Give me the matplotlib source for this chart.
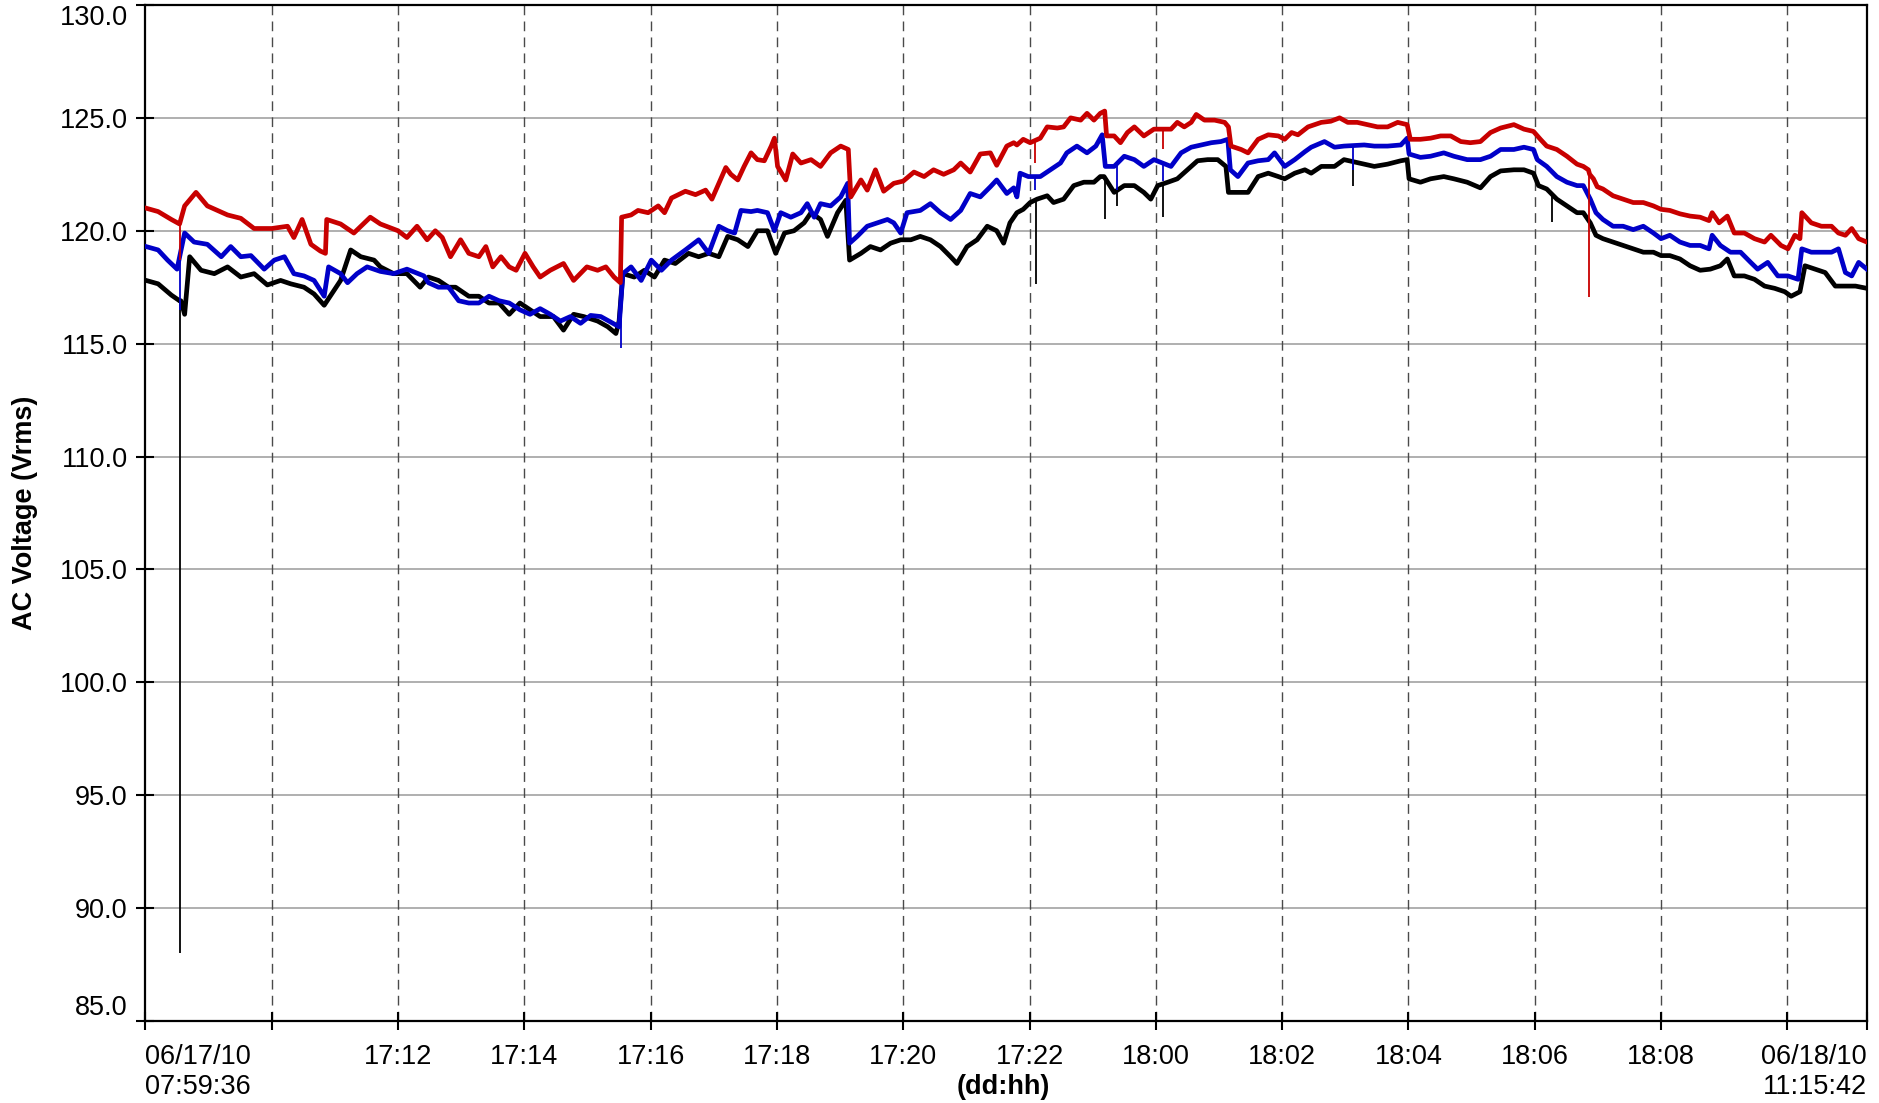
import matplotlib
matplotlib.use("Agg")
import matplotlib.pyplot as plt
import numpy as np

plt.rcParams['font.family'] = ['Liberation Sans', 'DejaVu Sans']

# time in hours since 06/17/10 00:00
t_start = 7 + 59/60 + 36/3600      # 06/17/10 07:59:36
t_end = 24 + 11 + 15/60 + 42/3600  # 06/18/10 11:15:42

red_t = [8.01, 8.20, 8.41, 8.54, 8.62, 8.80, 8.98, 9.14, 9.30, 9.51, 9.72, 10.00, 10.25, 10.35,
         10.48, 10.62, 10.77, 10.85, 10.87, 11.09, 11.30, 11.56, 11.72, 12.00, 12.14, 12.30, 12.46,
         12.59, 12.70, 12.83, 12.99, 13.12, 13.28, 13.39, 13.50, 13.63, 13.76, 13.87, 14.01, 14.14,
         14.25, 14.41, 14.62, 14.78, 14.99, 15.16, 15.29, 15.42, 15.52, 15.54, 15.69, 15.80, 15.96,
         16.12, 16.22, 16.33, 16.55, 16.71, 16.87, 16.97, 17.08, 17.19, 17.27, 17.38, 17.48, 17.59,
         17.69, 17.80, 17.91, 17.96, 18.01, 18.14, 18.25, 18.38, 18.54, 18.69, 18.85, 19.01, 19.13,
         19.17, 19.33, 19.43, 19.56, 19.69, 19.85, 20.00, 20.17, 20.33, 20.48, 20.64, 20.80, 20.91,
         21.06, 21.22, 21.38, 21.48, 21.64, 21.75, 21.80, 21.90, 22.01, 22.17, 22.28, 22.44,
         22.54, 22.65, 22.81, 22.91, 23.02, 23.12, 23.19, 23.22, 23.34, 23.44, 23.55, 23.66, 23.81,
         23.97, 24.24, 24.34, 24.45, 24.56, 24.64, 24.77, 24.93, 25.09, 25.15, 25.19, 25.35,
         25.46, 25.62, 25.78, 25.94, 26.04, 26.15, 26.25, 26.41, 26.62, 26.77, 26.91, 27.04, 27.19,
         27.35, 27.51, 27.67, 27.83, 27.98, 28.03, 28.19, 28.35, 28.51, 28.67, 28.83, 28.98, 29.14,
         29.30, 29.46, 29.67, 29.83, 29.98, 30.09, 30.19, 30.35, 30.51, 30.67, 30.77, 30.85,
         30.87, 30.93, 30.99, 31.08, 31.24, 31.40, 31.56, 31.72, 31.88, 32.00, 32.14, 32.30, 32.46,
         32.62, 32.76, 32.81, 32.92, 33.05, 33.16, 33.32, 33.48, 33.64, 33.74, 33.90, 34.01, 34.12,
         34.20, 34.23, 34.38, 34.54, 34.70, 34.81, 34.92, 35.02, 35.13, 35.26]
red_v = [121.0, 120.85, 120.5, 120.3, 121.1, 121.7, 121.1, 120.9, 120.7, 120.55, 120.1, 120.1,
         120.2, 119.7, 120.5, 119.4, 119.1, 119.0, 120.5, 120.3, 119.9, 120.6, 120.3, 120.0, 119.7,
         120.2, 119.6, 120.0, 119.7, 118.85, 119.6, 119.0, 118.85, 119.3, 118.4, 118.85, 118.4,
         118.25, 119.0, 118.4, 117.95, 118.25, 118.55, 117.8, 118.4, 118.25, 118.4, 117.95, 117.7,
         120.6, 120.7, 120.9, 120.8, 121.1, 120.8, 121.45, 121.75, 121.6, 121.8, 121.4, 122.1, 122.8,
         122.5, 122.25, 122.85, 123.45, 123.15, 123.1, 123.75, 124.1, 122.85, 122.25, 123.4, 123.0,
         123.15, 122.85, 123.45, 123.75, 123.6, 121.5, 122.25, 121.8, 122.7, 121.75, 122.1, 122.2,
         122.6, 122.4, 122.7, 122.5, 122.7, 123.0, 122.6, 123.4, 123.45, 122.9, 123.75, 123.9, 123.8,
         124.05, 123.9, 124.1, 124.6, 124.55, 124.6, 125.0, 124.9, 125.2, 124.9, 125.2, 125.3,
         124.2, 124.2, 123.9, 124.35, 124.6, 124.2, 124.5, 124.5, 124.8, 124.6, 124.8, 125.15,
         124.9, 124.9, 124.8, 124.6, 123.75, 123.6, 123.45, 124.05, 124.25, 124.2, 124.05, 124.35,
         124.25, 124.6, 124.8, 124.85, 125.0, 124.8, 124.8, 124.7, 124.6, 124.6, 124.8, 124.7, 124.05,
         124.05, 124.1, 124.2, 124.2, 123.95, 123.9, 123.95, 124.35, 124.55, 124.7, 124.5, 124.4,
         124.05, 123.75, 123.6, 123.3, 122.95, 122.85, 122.7, 122.5, 122.3, 121.95, 121.85,
         121.55, 121.4, 121.25, 121.25, 121.1, 120.95, 120.9, 120.75, 120.65, 120.6, 120.45, 120.8,
         120.35, 120.65, 119.9, 119.9, 119.65, 119.5, 119.8, 119.35, 119.2, 119.8, 119.65, 120.8,
         120.35, 120.2, 120.2, 119.9, 119.8, 120.1, 119.65, 119.5]
red_spike_t = [8.55, 22.09, 24.11, 30.86]
red_spike_v = [118.7, 123.0, 123.6, 117.05]

blue_t = [8.01, 8.20, 8.35, 8.50, 8.62, 8.77, 8.98, 9.20, 9.35, 9.51, 9.67, 9.88, 10.04, 10.20,
          10.35, 10.51, 10.67, 10.83, 10.90, 11.09, 11.20, 11.35, 11.51, 11.72, 11.93, 12.14, 12.41,
          12.48, 12.64, 12.80, 12.96, 13.12, 13.28, 13.44, 13.60, 13.76, 13.93, 14.09, 14.25, 14.41,
          14.57, 14.73, 14.89, 15.05, 15.21, 15.37, 15.50, 15.56, 15.69, 15.85, 16.01, 16.17,
          16.33, 16.55, 16.76, 16.92, 17.08, 17.22, 17.33, 17.43, 17.59, 17.69, 17.85, 17.96, 18.06,
          18.22, 18.38, 18.48, 18.59, 18.69, 18.85, 19.01, 19.12, 19.15, 19.27, 19.43, 19.59, 19.75,
          19.85, 19.96, 20.06, 20.27, 20.43, 20.59, 20.75, 20.91, 21.06, 21.22, 21.38, 21.48, 21.64,
          21.75, 21.80, 21.85, 21.98, 22.17, 22.33, 22.49, 22.59, 22.75, 22.91, 23.05, 23.15,
          23.20, 23.34, 23.50, 23.66, 23.81, 23.97, 24.24, 24.40, 24.56, 24.72, 24.88,
          25.03, 25.14, 25.18, 25.30, 25.46, 25.62, 25.78, 25.88, 26.04, 26.20, 26.36, 26.46, 26.67,
          26.83, 26.98, 27.30, 27.46, 27.67, 27.88, 27.98, 28.01, 28.19, 28.35, 28.56, 28.72,
          28.93, 29.14, 29.30, 29.46, 29.67, 29.83, 29.98, 30.04, 30.19, 30.35, 30.51, 30.67, 30.77,
          30.88, 30.97, 31.08, 31.24, 31.40, 31.56, 31.72, 31.88, 32.00, 32.14, 32.30, 32.46, 32.62,
          32.76, 32.81, 32.94, 33.10, 33.26, 33.42, 33.53, 33.69, 33.85, 34.01, 34.17, 34.23, 34.38,
          34.54, 34.70, 34.81, 34.92, 35.02, 35.13, 35.26]
blue_v = [119.3, 119.15, 118.7, 118.3, 119.9, 119.5, 119.4, 118.85, 119.3, 118.85, 118.9, 118.3,
          118.7, 118.85, 118.1, 118.0, 117.8, 117.1, 118.4, 118.1, 117.7, 118.1, 118.4, 118.2, 118.1,
          118.3, 118.0, 117.7, 117.5, 117.5, 116.9, 116.8, 116.8, 117.1, 116.9, 116.8, 116.5, 116.3,
          116.55, 116.3, 116.0, 116.2, 115.9, 116.25, 116.2, 115.95, 115.75, 118.1, 118.4,
          117.8, 118.7, 118.25, 118.7, 119.15, 119.6, 119.0, 120.2, 120.0, 119.9, 120.9, 120.85, 120.9,
          120.8, 120.0, 120.8, 120.6, 120.8, 121.2, 120.6, 121.2, 121.1, 121.5, 122.1, 119.45, 119.75,
          120.2, 120.35, 120.5, 120.35, 119.9, 120.8, 120.9, 121.2, 120.8, 120.5, 120.9, 121.65, 121.5,
          121.95, 122.25, 121.65, 121.9, 121.5, 122.55, 122.4, 122.4, 122.7, 123.0, 123.45,
          123.75, 123.45, 123.75, 124.25, 122.85, 122.85, 123.3, 123.15, 122.85, 123.15,
          122.85, 123.45, 123.7, 123.8, 123.9, 123.95, 124.05, 122.7, 122.4, 123.0, 123.1, 123.15,
          123.45, 122.85, 123.15, 123.5, 123.7, 123.95, 123.7, 123.75, 123.8, 123.75, 123.75,
          123.8, 124.1, 123.4, 123.25, 123.3, 123.45, 123.3, 123.15, 123.15, 123.3, 123.6, 123.6, 123.7,
          123.6, 123.15, 122.85, 122.4, 122.15, 122.0, 122.0, 121.4, 120.8, 120.5, 120.2, 120.2, 120.05,
          120.2, 119.9, 119.65, 119.8, 119.5, 119.35, 119.35, 119.2, 119.8, 119.35, 119.05, 119.05,
          118.6, 118.3, 118.6, 118.0, 118.0, 117.85, 119.2, 119.05, 119.05, 119.05, 119.2, 118.15,
          118.0, 118.6, 118.3]
blue_spike_t = [8.55, 15.53, 22.09, 23.39, 24.11, 27.12]
blue_spike_v = [116.5, 114.8, 121.8, 121.8, 122.2, 122.7]

black_t = [8.01, 8.20, 8.41, 8.54, 8.56, 8.62, 8.70, 8.88, 9.09, 9.30, 9.51, 9.72, 9.93, 10.14,
           10.30, 10.51, 10.67, 10.83, 11.09, 11.25, 11.41, 11.62, 11.72, 11.93, 12.14, 12.35, 12.48,
           12.64, 12.80, 12.91, 13.12, 13.28, 13.44, 13.60, 13.76, 13.93, 14.09, 14.25, 14.46, 14.62,
           14.78, 14.94, 15.16, 15.32, 15.45, 15.50, 15.56, 15.74, 15.90, 16.06, 16.22, 16.39, 16.60,
           16.76, 16.92, 17.08, 17.22, 17.38, 17.54, 17.69, 17.85, 17.98, 18.12, 18.27, 18.43, 18.54,
           18.69, 18.80, 18.96, 19.09, 19.15, 19.33, 19.48, 19.64, 19.80, 19.96, 20.12, 20.27, 20.43,
           20.59, 20.75, 20.85, 21.01, 21.17, 21.33, 21.48, 21.59, 21.69, 21.80, 21.90, 22.01,
           22.12, 22.28, 22.38, 22.54, 22.70, 22.86, 23.02, 23.12, 23.18, 23.34, 23.50,
           23.66, 23.81, 23.92, 24.03, 24.19, 24.34, 24.50, 24.66, 24.82, 24.98, 25.11, 25.15,
           25.30, 25.46, 25.62, 25.78, 25.94, 26.04, 26.20, 26.36, 26.46, 26.62, 26.83, 26.98,
           27.30, 27.46, 27.67, 27.88, 27.98, 28.01, 28.19, 28.35, 28.56, 28.72, 28.93, 29.14, 29.30,
           29.46, 29.67, 29.83, 29.98, 30.06, 30.19, 30.35, 30.51, 30.67, 30.77, 30.88, 30.97,
           31.08, 31.24, 31.40, 31.56, 31.72, 31.88, 32.00, 32.14, 32.30, 32.46, 32.62, 32.78, 32.94,
           33.05, 33.16, 33.32, 33.48, 33.64, 33.80, 33.96, 34.06, 34.20, 34.28, 34.44, 34.60, 34.76,
           34.92, 35.08, 35.26]
black_v = [117.8, 117.65, 117.15, 116.9, 116.9, 116.3, 118.85, 118.25, 118.1, 118.4, 117.95,
           118.1, 117.6, 117.8, 117.65, 117.5, 117.2, 116.7, 117.8, 119.15, 118.85, 118.7, 118.4, 118.1,
           118.1, 117.5, 117.95, 117.8, 117.5, 117.5, 117.1, 117.1, 116.8, 116.8, 116.3, 116.8, 116.5,
           116.2, 116.2, 115.6, 116.3, 116.2, 116.0, 115.75, 115.45, 116.0, 118.1, 117.95, 118.25,
           117.95, 118.7, 118.55, 119.0, 118.85, 119.0, 118.85, 119.75, 119.6, 119.3, 120.0, 120.0,
           119.0, 119.9, 120.0, 120.35, 120.8, 120.5, 119.75, 120.8, 121.35, 118.7, 119.0, 119.3,
           119.15, 119.45, 119.6, 119.6, 119.75, 119.6, 119.3, 118.85, 118.55, 119.3, 119.6, 120.2,
           120.0, 119.45, 120.35, 120.8, 120.95, 121.25, 121.4, 121.55, 121.25, 121.4, 122.0,
           122.15, 122.15, 122.4, 122.4, 121.7, 122.0, 122.0, 121.7, 121.4, 122.0,
           122.15, 122.3, 122.7, 123.1, 123.15, 123.15, 122.85, 121.7, 121.7, 121.7, 122.4, 122.55,
           122.4, 122.3, 122.55, 122.7, 122.55, 122.85, 122.85, 123.15, 122.95, 122.85, 122.95,
           123.1, 123.15, 122.3, 122.15, 122.3, 122.4, 122.3, 122.15, 121.9, 122.4, 122.65, 122.7,
           122.7, 122.55, 122.0, 121.85, 121.4, 121.1, 120.8, 120.8, 120.35, 119.8, 119.65,
           119.5, 119.35, 119.2, 119.05, 119.05, 118.9, 118.9, 118.75, 118.45, 118.25, 118.3, 118.45,
           118.75, 118.0, 118.0, 117.85, 117.55, 117.45, 117.3, 117.1, 117.3, 118.45, 118.3, 118.15,
           117.55, 117.55, 117.55, 117.45]
black_spike_t = [8.553, 22.10, 23.20, 23.39, 24.11, 27.12, 30.27]
black_spike_v = [88.0, 117.65, 120.5, 121.1, 120.6, 122.0, 120.4]

grid_hours = [10, 12, 14, 16, 18, 20, 22, 24, 26, 28, 30, 32, 34]
grid_labels = ["", "17:12", "17:14", "17:16", "17:18", "17:20", "17:22",
               "18:00", "18:02", "18:04", "18:06", "18:08", ""]
start_label = "06/17/10\n07:59:36"
end_label = "06/18/10\n11:15:42"
y_ticks = [85, 90, 95, 100, 105, 110, 115, 120, 125, 130]

FS = 19.5
AX_L, AX_R, AX_B, AX_T = 0.0772, 0.9936, 0.0743, 0.9955

fig = plt.figure(figsize=(18.79, 11.03), dpi=100)
ax = fig.add_axes([AX_L, AX_B, AX_R - AX_L, AX_T - AX_B])

ax.set_xlim(t_start, t_end)
ax.set_ylim(85, 130)

for y in y_ticks:
    ax.axhline(y, color='#9a9a9a', lw=1.1, zorder=1)
for h in grid_hours:
    ax.axvline(h, color='#4a4a4a', lw=1.0, dashes=(7, 4.5), zorder=1)

LW = 3.4
series = [(black_t, black_v, black_spike_t, black_spike_v, '#000000', 3),
          (blue_t, blue_v, blue_spike_t, blue_spike_v, '#0000C8', 4),
          (red_t, red_v, red_spike_t, red_spike_v, '#C80000', 5)]
for t, v, st, sv, col, z in series:
    ax.plot(t, v, color=col, lw=LW, zorder=z)
    base = np.interp(st, t, v)
    ax.vlines(st, sv, base, colors=col, lw=1.3, zorder=z)

ax.set_yticks(y_ticks)
ax.set_yticklabels([f"{v:.1f}" for v in y_ticks])
ylabels = ax.get_yticklabels()
ylabels[0].set_va('bottom')
ylabels[-1].set_va('top')

ax.set_xticks([t_start] + grid_hours + [t_end])
ax.set_xticklabels([start_label] + grid_labels + [end_label])
labels = ax.get_xticklabels()
labels[0].set_ha('left')
labels[0].set_multialignment('left')
labels[-1].set_ha('right')
labels[-1].set_multialignment('right')

ax.tick_params(axis='both', direction='inout', length=13, width=1.5, labelsize=FS, colors='black')
ax.tick_params(axis='x', pad=10)
ax.tick_params(axis='y', pad=6)

for s in ax.spines.values():
    s.set_linewidth(1.6)
    s.set_color('black')

fig.text(25 / 1879, (AX_B + AX_T) / 2, "AC Voltage (Vrms)", rotation=90, ha='center', va='center',
         fontsize=FS, fontweight='bold')
fig.text(1003 / 1879, 1 - 1087 / 1103, "(dd:hh)", ha='center', va='center',
         fontsize=FS, fontweight='bold')

fig.savefig("out.png", dpi=100)
